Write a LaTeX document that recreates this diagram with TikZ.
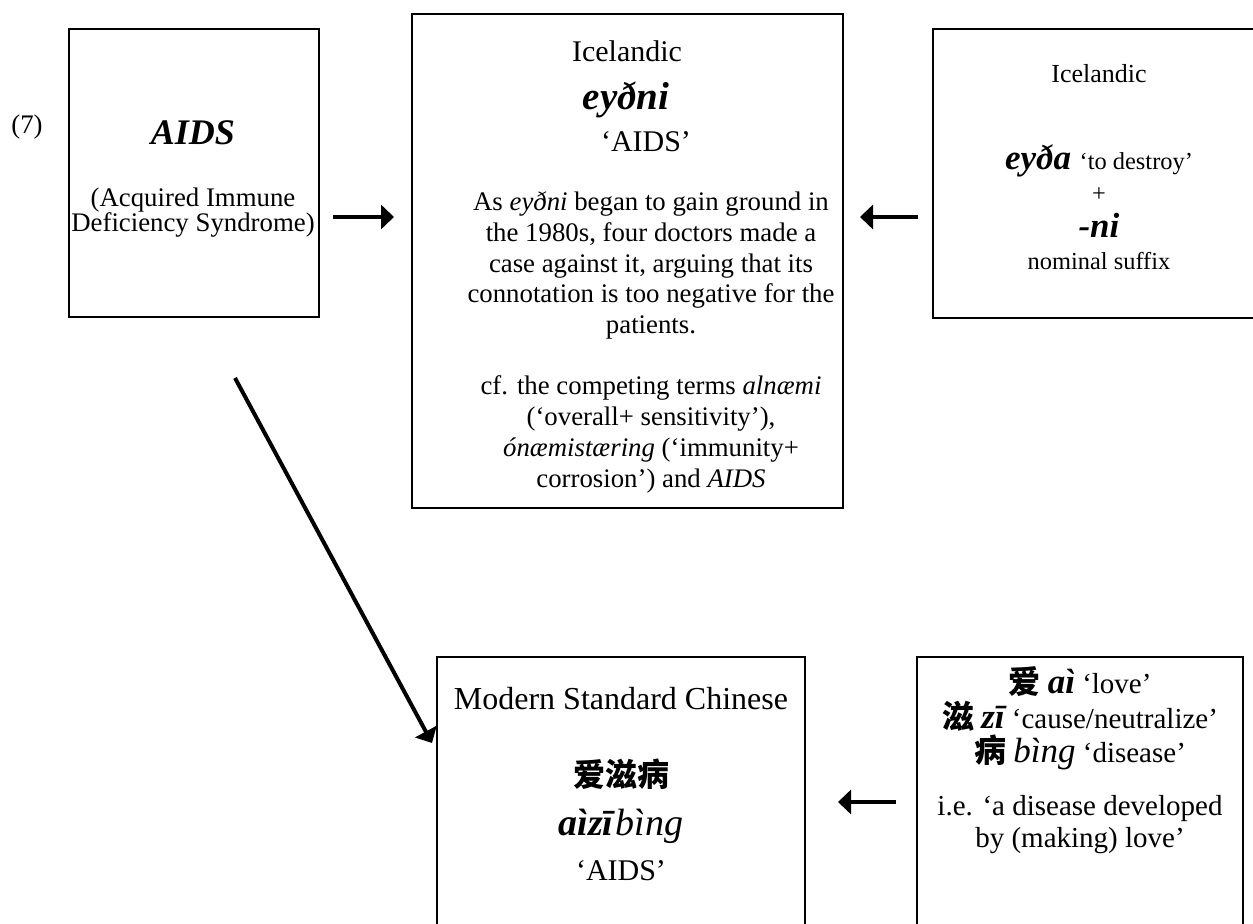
\documentclass[tikz,border=0pt]{standalone}
\usepackage{fontspec}
\setmainfont{Liberation Serif}
\newfontfamily\cjk{Noto Sans CJK SC}
\usetikzlibrary{arrows.meta,calc}
\newcommand{\fs}[1]{\fontsize{#1}{#1}\selectfont}
\begin{document}
\begin{tikzpicture}[x=0.5pt,y=-0.5pt,
  box/.style={draw, line width=1pt, inner sep=0pt},
  t/.style={anchor=base, inner sep=0pt, font=\fs{13.4}},
  big/.style={anchor=base, inner sep=0pt, font=\fs{19.5}\bfseries\itshape},
  arr/.style={line width=2pt, -{Triangle[length=6.5pt,width=12pt]}}]
\useasboundingbox (0,0) rectangle (1253,924);
\clip (0,0) rectangle (1253,924);
% boxes
\node[box, minimum width=125pt, minimum height=144pt] (A) at (194,173) {};
\node[box, minimum width=215.5pt, minimum height=247pt] (B) at (627.5,261) {};
\node[box, minimum width=167pt, minimum height=144.5pt] (C) at (1100,173.5) {};
\node[box, minimum width=184pt, minimum height=151.5pt] (D) at (621,808.5) {};
\node[box, minimum width=163pt, minimum height=151.5pt] (E) at (1080,808.5) {};
% box A
\node[t] (n7) at (27,134) {(7)};
\node[t, font=\fs{18}\bfseries\itshape] (a1) at (193,145) {AIDS};
\node[t] (a2) at (193,207) {(Acquired Immune};
\node[t] (a3) at (193,232) {Deficiency Syndrome)};
% box B
\node[t, font=\fs{15}] (b1) at (627,62) {Icelandic};
\node[big] (b2) at (626,110) {eyðni};
\node[t, font=\fs{15}] (b3) at (646,152) {‘AIDS’};
\node[t] (b4) at (651,211) {As \textit{eyðni} began to gain ground in};
\node[t] (b5) at (651,242) {the 1980s, four doctors made a};
\node[t] (b6) at (651,272.5) {case against it, arguing that its};
\node[t] (b7) at (651,303) {connotation is too negative for the};
\node[t] (b8) at (651,333.5) {patients.};
\node[t] (b9) at (651,395) {cf. the competing terms \textit{alnæmi}};
\node[t] (b10) at (651,426) {(‘overall+ sensitivity’),};
\node[t] (b11) at (651,457) {\textit{ónæmistæring} (‘immunity+};
\node[t] (b12) at (651,488) {corrosion’) and \textit{AIDS}};
% box C
\node[t, font=\fs{13}] (c1) at (1099,83) {Icelandic};
\node[t, font=\fs{12.2}] (c2) at (1099,170) {{\fs{17.5}\bfseries\itshape eyða}\hspace{0.35em}‘to destroy’};
\node[t, font=\fs{12.2}] (c3) at (1099,202) {+};
\node[big, font=\fs{17.5}\bfseries\itshape] (c4) at (1099,238) {-ni};
\node[t, font=\fs{12.2}] (c5) at (1099,270) {nominal suffix};
% box D
\node[t, font=\fs{16}] (d1) at (621,709) {Modern Standard Chinese};
\node[t, font=\fs{16}\cjk\bfseries] (d2) at (621,786) {爱滋病};
\node[t, font=\fs{19}] (d3) at (621,835) {\textbf{\textit{aìzī}}\textit{bìng}};
\node[t, font=\fs{15}] (d4) at (621,880) {‘AIDS’};
% box E
\node[t, font=\fs{14.5}] (e1) at (1080,693) {{\fs{16}\cjk\bfseries 爱} {\fs{17.5}\bfseries\itshape aì} ‘love’};
\node[t, font=\fs{14.5}] (e2) at (1080,728) {{\fs{16}\cjk\bfseries 滋} {\fs{17.5}\bfseries\itshape zī} ‘cause/neutralize’};
\node[t, font=\fs{14.5}] (e3) at (1080,762) {{\fs{16}\cjk\bfseries 病} {\fs{17.5}\itshape bìng} ‘disease’};
\node[t, font=\fs{14.5}] (e4) at (1080,815) {i.e. ‘a disease developed};
\node[t, font=\fs{14.5}] (e5) at (1080,847) {by (making) love’};
% arrows
\draw[arr, shorten <=6.5pt, shorten >=8.5pt] (A.east |- 0,217) -- (B.west |- 0,217);
\draw[arr, shorten <=7pt, shorten >=8pt] (C.west |- 0,217) -- (B.east |- 0,217);
\draw[arr, shorten <=10pt, shorten >=16pt] (E.west |- 0,802) -- (D.east |- 0,802);
\coordinate (ds) at (235,378);
\draw[arr] (ds) -- ($(D.north west)+(-4,87)$);
\end{tikzpicture}
\end{document}
